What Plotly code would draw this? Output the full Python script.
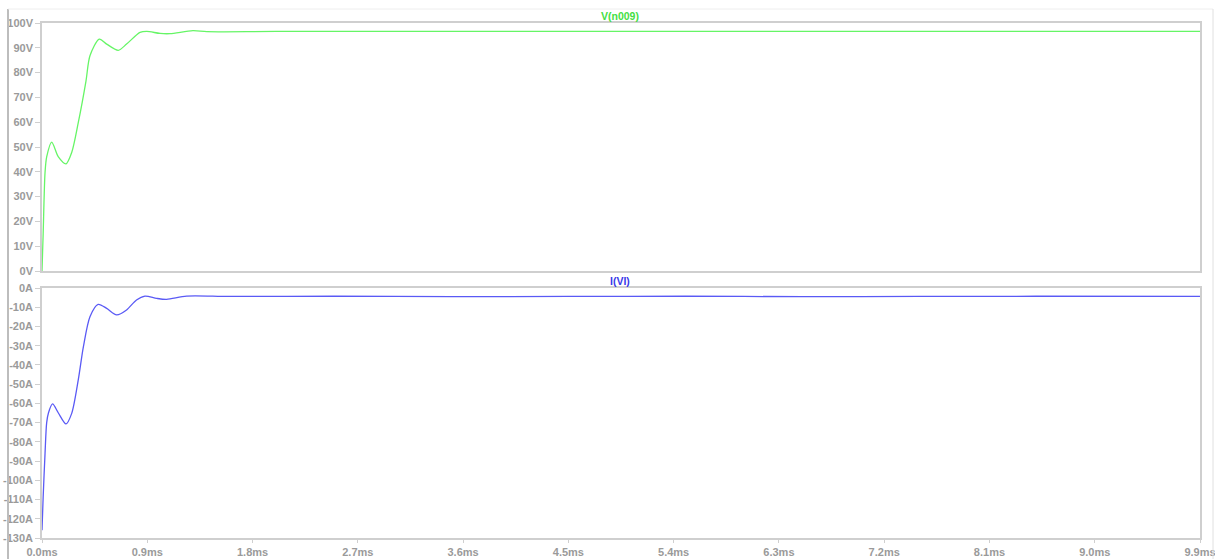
import plotly.graph_objects as go
from plotly.subplots import make_subplots

# Time in ms
t_v = [0.0, 0.01, 0.026, 0.04, 0.083, 0.14, 0.205, 0.254, 0.31, 0.376, 0.41, 0.49, 0.553,
       0.652, 0.723, 0.838, 0.895, 1.009, 1.094, 1.29, 1.41, 2.0, 4.0, 6.0, 8.0, 9.9]
v_n009 = [0.0, 15.0, 39.7, 46.0, 52.0, 46.0, 43.2, 47.8, 59.8, 76.6, 86.8, 93.5, 91.5,
          89.0, 91.5, 96.2, 96.6, 95.8, 95.7, 96.9, 96.5, 96.6, 96.6, 96.6, 96.6, 96.6]

t_i = [0.0, 0.01, 0.026, 0.04, 0.055, 0.09, 0.14, 0.205, 0.254, 0.31, 0.354, 0.41, 0.48,
       0.553, 0.638, 0.723, 0.808, 0.88, 0.98, 1.065, 1.236, 1.6, 2.5, 3.5, 4.5, 5.5, 6.5,
       7.5, 8.5, 9.9]
i_vi = [-126.0, -108.5, -86.0, -70.0, -65.0, -60.3, -65.0, -70.7, -65.2, -47.8, -30.5,
        -14.9, -8.5, -10.6, -14.0, -11.4, -6.2, -4.2, -5.4, -5.9, -4.2, -4.4, -4.3, -4.5,
        -4.4, -4.3, -4.5, -4.4, -4.3, -4.4]

x_ticks = [0.0, 0.9, 1.8, 2.7, 3.6, 4.5, 5.4, 6.3, 7.2, 8.1, 9.0, 9.9]
x_labels = ["0.0ms", "0.9ms", "1.8ms", "2.7ms", "3.6ms", "4.5ms", "5.4ms", "6.3ms",
            "7.2ms", "8.1ms", "9.0ms", "9.9ms"]
v_ticks = [0, 10, 20, 30, 40, 50, 60, 70, 80, 90, 100]
v_labels = ["0V", "10V", "20V", "30V", "40V", "50V", "60V", "70V", "80V", "90V", "100V"]
i_ticks = [0, -10, -20, -30, -40, -50, -60, -70, -80, -90, -100, -110, -120, -130]
i_labels = ["0A", "-10A", "-20A", "-30A", "-40A", "-50A", "-60A", "-70A", "-80A", "-90A",
            "-100A", "-110A", "-120A", "-130A"]

GRID = "#cfcfcf"
TXT = "#9a9a9a"
TFONT = dict(family="Liberation Sans, Arial, sans-serif", size=11, color=TXT, weight="bold")

fig = make_subplots(rows=2, cols=1)
fig.add_trace(go.Scatter(x=t_v, y=v_n009, mode="lines", line=dict(color="#66f566", width=1.3,
                         shape="spline", smoothing=0.8), showlegend=False), row=1, col=1)
fig.add_trace(go.Scatter(x=t_i, y=i_vi, mode="lines", line=dict(color="#5a5af5", width=1.3,
                         shape="spline", smoothing=0.8), showlegend=False), row=2, col=1)

L, R, T, B = 42, 15, 23, 21
H = 559 - T - B
W = 1215 - L - R
common = dict(showline=True, mirror=True, linecolor=GRID, linewidth=1.5, showgrid=False,
              zeroline=False, automargin=False, tickfont=TFONT, ticklabeloverflow="allow")
fig.update_layout(
    width=1215, height=559,
    margin=dict(l=L, r=R, t=T, b=B),
    paper_bgcolor="white", plot_bgcolor="white",
    xaxis=dict(domain=[0, 1], range=[0, 9.9], showticklabels=False, ticks="",
               tickvals=x_ticks, **common),
    yaxis=dict(domain=[(538 - 271) / H, 1], range=[0, 100], ticks="outside",
               ticklen=5, tickcolor=GRID, tickvals=v_ticks, ticktext=v_labels, **common),
    xaxis2=dict(domain=[0, 1], range=[0, 9.9], ticks="outside", ticklen=3,
                tickcolor=GRID, tickvals=x_ticks, ticktext=x_labels, **common),
    yaxis2=dict(domain=[0, (538 - 288) / H], range=[-130, 0], ticks="outside", ticklen=5,
                tickcolor=GRID, tickvals=i_ticks, ticktext=i_labels, **common),
)

fig.add_annotation(text="<b>V(n009)</b>", xref="paper", yref="paper",
                   x=(620 - L) / W, y=(538 - 16) / H, showarrow=False,
                   xanchor="center", yanchor="middle",
                   font=dict(family="Liberation Sans, Arial", size=10.5, color="#44e044"))
fig.add_annotation(text="<b>I(VI)</b>", xref="paper", yref="paper",
                   x=(620 - L) / W, y=(538 - 281) / H, showarrow=False,
                   xanchor="center", yanchor="middle",
                   font=dict(family="Liberation Sans, Arial", size=10.5, color="#3a3ae8"))

# window frame lines
fig.add_shape(type="line", xref="paper", yref="paper", x0=(8 - L) / W, x1=(8 - L) / W,
              y0=(538 - 559) / H, y1=(538 - 9) / H, line=dict(color="#bdbdbd", width=2))
fig.add_shape(type="line", xref="paper", yref="paper", x0=(8 - L) / W, x1=(1213 - L) / W,
              y0=(538 - 9) / H, y1=(538 - 9) / H, line=dict(color="#eeeeee", width=1))
fig.add_shape(type="line", xref="paper", yref="paper", x0=(1213 - L) / W, x1=(1213 - L) / W,
              y0=(538 - 559) / H, y1=(538 - 9) / H, line=dict(color="#e0e0e0", width=1))

fig.write_html("out.html", config={"displayModeBar": False},
               post_script="document.body.style.margin='0';document.body.style.overflow='hidden';")
